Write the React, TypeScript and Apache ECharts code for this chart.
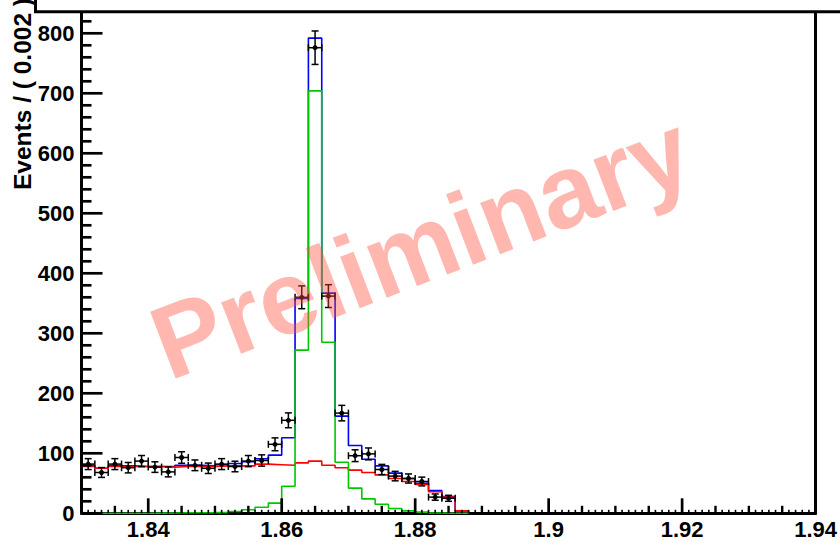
import React, { useEffect, useRef } from "react";
import * as echarts from "echarts";

// Binning of the mass distribution
const X_MIN = 1.83;
const X_MAX = 1.94;
const BIN_WIDTH = 0.002;
const Y_MAX = 835;

// Observed events per bin (bins starting at 1.830, width 0.002)
const dataCounts = [82, 68, 82, 76, 87, 77, 69, 93, 80, 75, 82, 78, 87, 88, 115, 155, 360, 776, 362, 167, 96, 99, 73, 62, 58, 53, 27, 25];
const dataErrors = [9.1, 8.2, 9.1, 8.7, 9.3, 8.8, 8.3, 9.6, 8.9, 8.7, 9.1, 8.8, 9.3, 9.4, 10.7, 12.4, 19, 27.9, 19, 12.9, 9.8, 9.9, 8.5, 7.9, 7.6, 7.3, 5.2, 5];

// Fit components per bin
const totalFit = [79, 75, 79, 79, 78, 78, 78, 80, 80, 79, 81, 83, 86, 91, 97, 126, 358, 792, 367, 162, 113, 90, 79, 67, 58, 50, 38, 28, 4];
const background = [78, 75, 78, 78, 78, 78, 77, 78, 78, 78, 79, 79, 79, 82, 81, 80, 84, 87, 80, 76, 72, 68, 64, 58, 53, 48, 36, 27, 4];
const signal = [0, 0, 0, 0, 0, 0.3, 0.5, 0.8, 1, 1.2, 1.6, 3, 6, 10, 17, 45, 272, 704, 285, 85, 42, 24, 15, 8, 4, 2, 0.5, 0, 0];

// Axis tick marks
const xTickValues: number[] = [];
for (let k = 1831; k < 1940; k++) xTickValues.push(k / 1000);
const yTickValues: number[] = [];
for (let v = 0; v <= 820; v += 20) yTickValues.push(v);

function stepLine(vals: number[]) {
  const pts: number[][] = [];
  vals.forEach((v, i) => {
    const lo = X_MIN + i * BIN_WIDTH;
    pts.push([lo, v], [lo + BIN_WIDTH, v]);
  });
  pts.push([X_MIN + vals.length * BIN_WIDTH, 0]);
  return pts;
}

const FONT = '"Liberation Sans", Arial, Helvetica, sans-serif';

export default function App() {
  const ref = useRef<HTMLDivElement>(null);

  useEffect(() => {
    if (!ref.current) return;
    const chart = echarts.init(ref.current, null, { renderer: "svg" });

    const points = dataCounts.map((c, i) => [X_MIN + (i + 0.5) * BIN_WIDTH, c, dataErrors[i]]);

    chart.setOption({
      animation: false,
      backgroundColor: "#ffffff",
      grid: { left: 81.5, right: 21.7, top: 12.3, bottom: 27.7 },
      xAxis: {
        type: "value",
        min: X_MIN,
        max: X_MAX,
        interval: 0.01,
        axisLine: { show: true, onZero: false, lineStyle: { color: "#000", width: 3 } },
        axisTick: { show: false },
        splitLine: { show: false },
        axisLabel: {
          margin: 5,
          color: "#000",
          fontSize: 22,
          fontWeight: "bold",
          fontFamily: FONT,
          formatter: (v: number) => {
            const k = Math.round(v * 1000);
            return k % 20 === 0 ? String(Math.round(v * 100) / 100) : "";
          },
        },
      },
      yAxis: [
        {
          type: "value",
          min: 0,
          max: Y_MAX,
          interval: 100,
          axisLine: { show: true, onZero: false, lineStyle: { color: "#000", width: 3 } },
          axisTick: { show: false },
          splitLine: { show: false },
          axisLabel: {
            margin: 7,
            color: "#000",
            fontSize: 22,
            fontWeight: "bold",
            fontFamily: FONT,
            formatter: (v: number) => (v % 100 === 0 ? String(v) : ""),
          },
        },
        {
          type: "value",
          position: "right",
          min: 0,
          max: Y_MAX,
          axisLine: { show: true, onZero: false, lineStyle: { color: "#000", width: 3 } },
          axisTick: { show: false },
          axisLabel: { show: false },
          splitLine: { show: false },
        },
      ],
      graphic: [
        {
          type: "polyline",
          z: 50,
          shape: { points: [[35.5, 0], [35.5, 11.7], [840, 11.7]] },
          style: { stroke: "#000", lineWidth: 3, fill: null },
        },
        {
          type: "text",
          z: 50,
          x: 22.5,
          y: 190,
          rotation: Math.PI / 2,
          style: {
            text: "Events / ( 0.002 )",
            fontSize: 24.5,
            fontWeight: "bold",
            fontFamily: FONT,
            fill: "#000",
            align: "left",
            verticalAlign: "middle",
          },
        },
        {
          type: "text",
          z: 100,
          x: 421,
          y: 246,
          rotation: (21 * Math.PI) / 180,
          style: {
            text: "Preliminary",
            fontSize: 104,
            fontWeight: "bold",
            fontFamily: FONT,
            fill: "rgba(255,75,55,0.4)",
            align: "center",
            verticalAlign: "middle",
          },
        },
      ],
      series: [
        {
          type: "line",
          data: stepLine(totalFit),
          symbol: "none",
          lineStyle: { color: "#0000ff", width: 1.6 },
          z: 3,
        },
        {
          type: "line",
          data: stepLine(background),
          symbol: "none",
          lineStyle: { color: "#ff0000", width: 1.6 },
          z: 4,
        },
        {
          type: "line",
          data: stepLine(signal),
          symbol: "none",
          lineStyle: { color: "#00c800", width: 1.6 },
          z: 5,
        },
        {
          type: "custom",
          z: 8,
          silent: true,
          data: points,
          encode: { x: 0, y: 1 },
          renderItem: (params: any, api: any) => {
            const x = api.value(0);
            const y = api.value(1);
            const e = api.value(2);
            const c = api.coord([x, y]);
            const top = api.coord([x, y + e]);
            const bot = api.coord([x, y - e]);
            const l = api.coord([x - BIN_WIDTH / 2, y]);
            const r = api.coord([x + BIN_WIDTH / 2, y]);
            const st = { stroke: "#000", lineWidth: 1.5 };
            const cap = 3.5;
            return {
              type: "group",
              children: [
                { type: "line", shape: { x1: c[0], y1: top[1], x2: c[0], y2: bot[1] }, style: st },
                { type: "line", shape: { x1: c[0] - cap, y1: top[1], x2: c[0] + cap, y2: top[1] }, style: st },
                { type: "line", shape: { x1: c[0] - cap, y1: bot[1], x2: c[0] + cap, y2: bot[1] }, style: st },
                { type: "line", shape: { x1: l[0], y1: c[1], x2: r[0], y2: c[1] }, style: st },
                { type: "line", shape: { x1: l[0], y1: c[1] - cap, x2: l[0], y2: c[1] + cap }, style: st },
                { type: "line", shape: { x1: r[0], y1: c[1] - cap, x2: r[0], y2: c[1] + cap }, style: st },
                { type: "circle", shape: { cx: c[0], cy: c[1], r: 2.5 }, style: { fill: "#000" } },
              ],
            };
          },
        },
        {
          type: "custom",
          z: 9,
          silent: true,
          data: xTickValues.map((v) => [v, 0]),
          encode: { x: 0, y: 1 },
          renderItem: (params: any, api: any) => {
            const v = api.value(0);
            const k = Math.round(v * 1000);
            const p = api.coord([v, 0]);
            const len = k % 20 === 0 ? 15 : k % 5 === 0 ? 7.5 : 3.5;
            const w = k % 20 === 0 ? 2.7 : k % 5 === 0 ? 2.4 : 1.6;
            return {
              type: "line",
              shape: { x1: p[0], y1: p[1], x2: p[0], y2: p[1] - len },
              style: { stroke: "#000", lineWidth: w },
            };
          },
        },
        {
          type: "custom",
          z: 9,
          silent: true,
          data: yTickValues.map((v) => [X_MIN, v]),
          encode: { x: 0, y: 1 },
          renderItem: (params: any, api: any) => {
            const v = api.value(1);
            const p = api.coord([X_MIN, v]);
            const len = v % 100 === 0 ? 21 : 10;
            return {
              type: "line",
              shape: { x1: p[0], y1: p[1], x2: p[0] + len, y2: p[1] },
              style: { stroke: "#000", lineWidth: 2.7 },
            };
          },
        },
      ],
    });

    return () => chart.dispose();
  }, []);

  return (
    <div
      ref={ref}
      style={{ position: "fixed", left: 0, top: 0, width: 840, height: 541, background: "#fff" }}
    />
  );
}
